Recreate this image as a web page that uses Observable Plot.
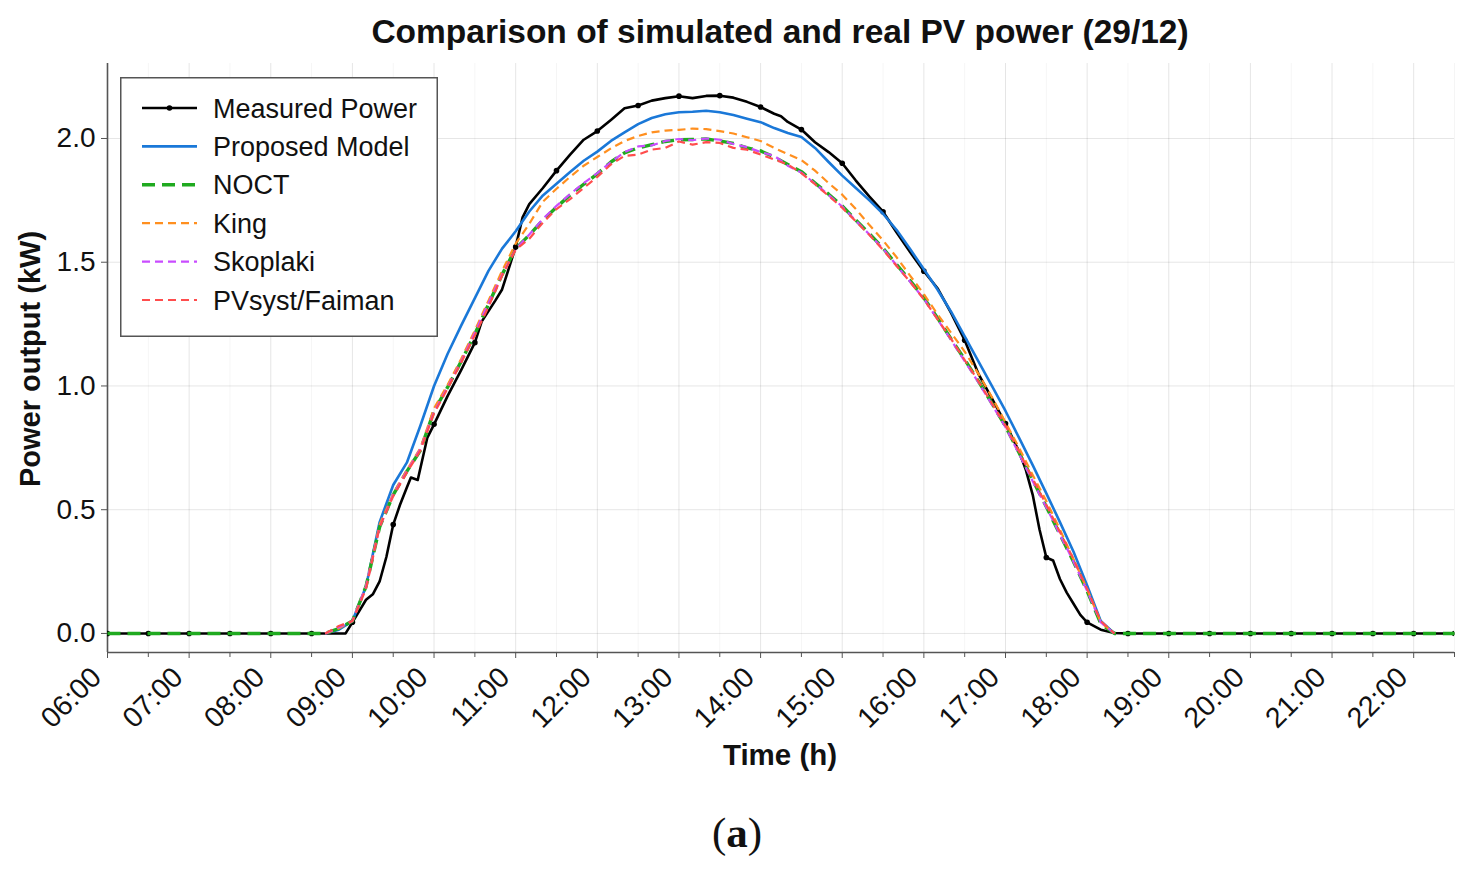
<!DOCTYPE html>
<html><head><meta charset="utf-8">
<script src="https://cdn.jsdelivr.net/npm/d3@7"></script>
<script src="https://cdn.jsdelivr.net/npm/@observablehq/plot@0.6"></script>
<style>
body{margin:0;background:#fff;font-family:"Liberation Sans",Arial,sans-serif;color:#111;}
#wrap{position:relative;width:1469px;height:872px;overflow:hidden;}
#chart{position:absolute;left:0;top:0;}
.title{position:absolute;top:13px;left:780px;transform:translateX(-50%);white-space:nowrap;font-weight:bold;font-size:33.5px;}
.xlabel{position:absolute;top:738px;left:780px;transform:translateX(-50%);white-space:nowrap;font-weight:bold;font-size:29.5px;}
.ylabel{position:absolute;left:30px;top:359px;transform:translate(-50%,-50%) rotate(-90deg);white-space:nowrap;font-weight:bold;font-size:29px;}
.caption{position:absolute;top:808px;left:737px;transform:translateX(-50%);font-family:"Liberation Serif","Times New Roman",serif;font-size:43px;}
#legend{position:absolute;left:120px;top:77px;}
</style></head>
<body><div id="wrap">
<div id="chart"></div>
<div class="title">Comparison of simulated and real PV power (29/12)</div>
<div class="xlabel">Time (h)</div>
<div class="ylabel">Power output (kW)</div>
<div class="caption">(<b>a</b>)</div>
<div id="legend"></div>
</div>
<script>
// ---- data ----
const seriesNames = ["Measured Power","Proposed Model","NOCT","King","Skoplaki","PVsyst/Faiman"];
const hourTicks = ["06:00","07:00","08:00","09:00","10:00","11:00","12:00","13:00","14:00","15:00","16:00","17:00","18:00","19:00","20:00","21:00","22:00"];
const halfHourTicks = ["06:30","07:30","08:30","09:30","10:30","11:30","12:30","13:30","14:30","15:30","16:30","17:30","18:30","19:30","20:30","21:30","22:30"];
const yTicks = [0,0.5,1.0,1.5,2.0];
const xRange = ["06:00","22:30"];
const yRange = [-0.077, 2.303];

const measTimes = ["06:00","06:30","07:00","07:30","08:00","08:30","08:55","09:00","09:05","09:10","09:15","09:20","09:25","09:30","09:35","09:40","09:43","09:48","09:55","10:00","10:10","10:20","10:30","10:35","10:45","10:50","11:00","11:05","11:10","11:20","11:30","11:40","11:50","12:00","12:10","12:20","12:30","12:40","12:50","13:00","13:10","13:20","13:30","13:40","13:50","14:00","14:10","14:15","14:20","14:30","14:40","14:50","15:00","15:10","15:20","15:30","15:40","15:50","16:00","16:10","16:20","16:30","16:40","16:50","17:00","17:10","17:15","17:20","17:25","17:30","17:35","17:40","17:45","17:50","17:55","18:00","18:10","18:20","18:30","19:00","19:30","20:00","20:30","21:00","21:30","22:00","22:30"];
const measured = [0,0,0,0,0,0,0,0.045,0.09,0.136,0.158,0.21,0.31,0.44,0.52,0.59,0.63,0.62,0.79,0.845,0.96,1.065,1.175,1.26,1.345,1.39,1.562,1.68,1.735,1.80,1.870,1.935,1.995,2.03,2.075,2.122,2.133,2.153,2.163,2.171,2.163,2.172,2.173,2.165,2.148,2.127,2.100,2.09,2.067,2.036,1.985,1.945,1.90,1.83,1.765,1.704,1.62,1.54,1.464,1.395,1.295,1.185,1.05,0.95,0.848,0.735,0.66,0.56,0.42,0.307,0.295,0.22,0.165,0.12,0.075,0.045,0.015,0.002,0,0,0,0,0,0,0,0,0];

const times = ["08:40","08:50","09:00","09:10","09:20","09:30","09:40","09:50","10:00","10:10","10:20","10:30","10:40","10:50","11:00","11:10","11:20","11:30","11:40","11:50","12:00","12:10","12:20","12:30","12:40","12:50","13:00","13:10","13:20","13:30","13:40","13:50","14:00","14:10","14:20","14:30","14:40","14:50","15:00","15:10","15:20","15:30","15:40","15:50","16:00","16:10","16:20","16:30","16:40","16:50","17:00","17:10","17:20","17:30","17:40","17:50","18:00","18:10","18:20"];
const proposed = [0,0.015,0.05,0.19,0.45,0.60,0.69,0.84,1.00,1.13,1.245,1.355,1.465,1.555,1.625,1.705,1.77,1.817,1.865,1.91,1.947,1.99,2.025,2.058,2.083,2.098,2.106,2.108,2.112,2.106,2.095,2.08,2.066,2.042,2.022,2.006,1.962,1.905,1.85,1.80,1.75,1.696,1.63,1.552,1.472,1.39,1.30,1.20,1.10,1.00,0.899,0.79,0.68,0.566,0.45,0.33,0.194,0.05,0];
const noct = [0,0.02,0.05,0.19,0.43,0.56,0.655,0.74,0.90,0.995,1.10,1.21,1.33,1.45,1.555,1.61,1.67,1.722,1.772,1.815,1.857,1.905,1.942,1.962,1.975,1.988,1.995,1.996,1.998,1.99,1.98,1.962,1.95,1.925,1.895,1.866,1.82,1.775,1.727,1.67,1.615,1.557,1.49,1.425,1.356,1.275,1.19,1.107,1.02,0.93,0.837,0.73,0.62,0.512,0.40,0.29,0.171,0.04,0];
const king = [0,0.02,0.05,0.19,0.44,0.565,0.66,0.75,0.91,1.005,1.11,1.225,1.345,1.465,1.575,1.655,1.745,1.797,1.845,1.89,1.925,1.96,1.99,2.01,2.025,2.032,2.035,2.04,2.038,2.03,2.02,2.005,1.99,1.962,1.937,1.913,1.87,1.82,1.773,1.715,1.65,1.588,1.52,1.445,1.371,1.29,1.215,1.139,1.05,0.955,0.853,0.75,0.64,0.535,0.42,0.30,0.179,0.045,0];
const skoplaki = [0,0.025,0.05,0.19,0.43,0.56,0.655,0.745,0.895,0.995,1.10,1.215,1.335,1.45,1.552,1.612,1.675,1.728,1.775,1.82,1.86,1.905,1.945,1.968,1.972,1.99,1.998,1.993,2.0,1.995,1.978,1.965,1.945,1.93,1.89,1.862,1.818,1.772,1.725,1.668,1.612,1.555,1.487,1.42,1.352,1.27,1.186,1.10,1.015,0.925,0.833,0.725,0.615,0.51,0.40,0.29,0.172,0.045,0];
const pvsyst = [0,0.03,0.05,0.18,0.43,0.555,0.65,0.74,0.89,0.99,1.095,1.205,1.32,1.445,1.55,1.595,1.66,1.715,1.755,1.80,1.845,1.895,1.93,1.935,1.955,1.962,1.988,1.975,1.985,1.982,1.962,1.955,1.935,1.915,1.895,1.86,1.815,1.768,1.72,1.665,1.61,1.55,1.485,1.42,1.35,1.27,1.19,1.105,1.02,0.93,0.84,0.735,0.625,0.52,0.41,0.30,0.18,0.05,0];
// NOCT night values (drawn across the whole day)
const nightBefore = ["06:00","06:30","07:00","07:30","08:00","08:30"];
const nightBeforeValues = [0,0,0,0,0,0];
const nightAfter = ["18:30","19:00","19:30","20:00","20:30","21:00","21:30","22:00","22:30"];
const nightAfterValues = [0,0,0,0,0,0,0,0,0];

// ---- styles ----
const colors = ["#000000","#1a78d8","#1faa1f","#ff8f1f","#c94cff","#ff4d4d"];
const widths = [2.6,2.6,3.4,2.2,2.2,2.2];
const dashes = [null,null,"13,7","8,5","8,5","8,5"];

const parse = d3.utcParse("%H:%M");
const T = a => a.map(parse);

const noctT = T([...nightBefore, ...times, ...nightAfter]);
const noctV = [...nightBeforeValues, ...noct, ...nightAfterValues];
const mT = T(measTimes);
const markIdx = measTimes.map((t,i)=>i).filter(i => /:(00|30)$/.test(measTimes[i]));

const lineOpts = (i) => ({stroke: colors[i], strokeWidth: widths[i], strokeDasharray: dashes[i] || undefined, strokeLinejoin:"round", strokeLinecap:"butt"});

const chart = Plot.plot({
  width: 1469, height: 800,
  marginTop: 63, marginLeft: 107, marginRight: 15, marginBottom: 148,
  style: {fontFamily: "Liberation Sans, Arial, sans-serif", fontSize: "28px", color: "#111", background: "transparent"},
  x: {type: "utc", domain: T(xRange)},
  y: {domain: yRange},
  marks: [
    Plot.gridX(T(halfHourTicks), {stroke: "#000", strokeOpacity: 0.04}),
    Plot.gridX(T(hourTicks), {stroke: "#000", strokeOpacity: 0.1}),
    Plot.gridY(yTicks, {stroke: "#000", strokeOpacity: 0.1}),
    Plot.ruleY([yRange[0]], {stroke: "#555", strokeWidth: 1.6}),
    Plot.ruleX([T(xRange)[0]], {stroke: "#555", strokeWidth: 1.6}),
    Plot.axisX(T(halfHourTicks), {tickFormat: () => "", tickSize: 5, stroke: "#555", label: null}),
    Plot.axisX(T(hourTicks), {tickFormat: () => "", tickSize: 6, stroke: "#555", label: null}),
    Plot.axisX(T(hourTicks), {tickFormat: d3.utcFormat("%H:%M"), tickRotate: -45, tickSize: 0, tickPadding: 9, dx: -11, dy: 11, fontSize: 28.5, label: null}),
    Plot.axisY(yTicks, {tickFormat: d3.format(".1f"), tickSize: 6, tickPadding: 6, stroke: "#555", label: null}),
    Plot.line(measured, {x: mT, y: measured, ...lineOpts(0)}),
    Plot.dot(markIdx, {x: i => mT[i], y: i => measured[i], r: 2.8, fill: "#000", stroke: null, clip: true}),
    Plot.line(proposed, {x: T(times), y: proposed, ...lineOpts(1)}),
    Plot.line(noctV, {x: noctT, y: noctV, ...lineOpts(2)}),
    Plot.line(king, {x: T(times), y: king, ...lineOpts(3)}),
    Plot.line(skoplaki, {x: T(times), y: skoplaki, ...lineOpts(4)}),
    Plot.line(pvsyst, {x: T(times), y: pvsyst, ...lineOpts(5)})
  ]
});
document.getElementById("chart").appendChild(chart);

// ---- legend ----
const lg = d3.select("#legend").append("svg").attr("width", 318).attr("height", 260);
lg.append("rect").attr("x", 0.75).attr("y", 0.75).attr("width", 316.5).attr("height", 258.5)
  .attr("fill", "#fff").attr("stroke", "#555").attr("stroke-width", 1.5);
seriesNames.forEach((name, i) => {
  const cy = 31 + i * 38.4;
  lg.append("line").attr("x1", 22).attr("x2", 77).attr("y1", cy).attr("y2", cy)
    .attr("stroke", colors[i]).attr("stroke-width", widths[i])
    .attr("stroke-dasharray", dashes[i]);
  if (i === 0) lg.append("circle").attr("cx", 49.5).attr("cy", cy).attr("r", 2.8).attr("fill", "#000");
  lg.append("text").attr("x", 93).attr("y", cy + 9.5).text(name)
    .attr("font-family", "Liberation Sans, Arial, sans-serif").attr("font-size", 27).attr("fill", "#111");
});
</script>
</body></html>
